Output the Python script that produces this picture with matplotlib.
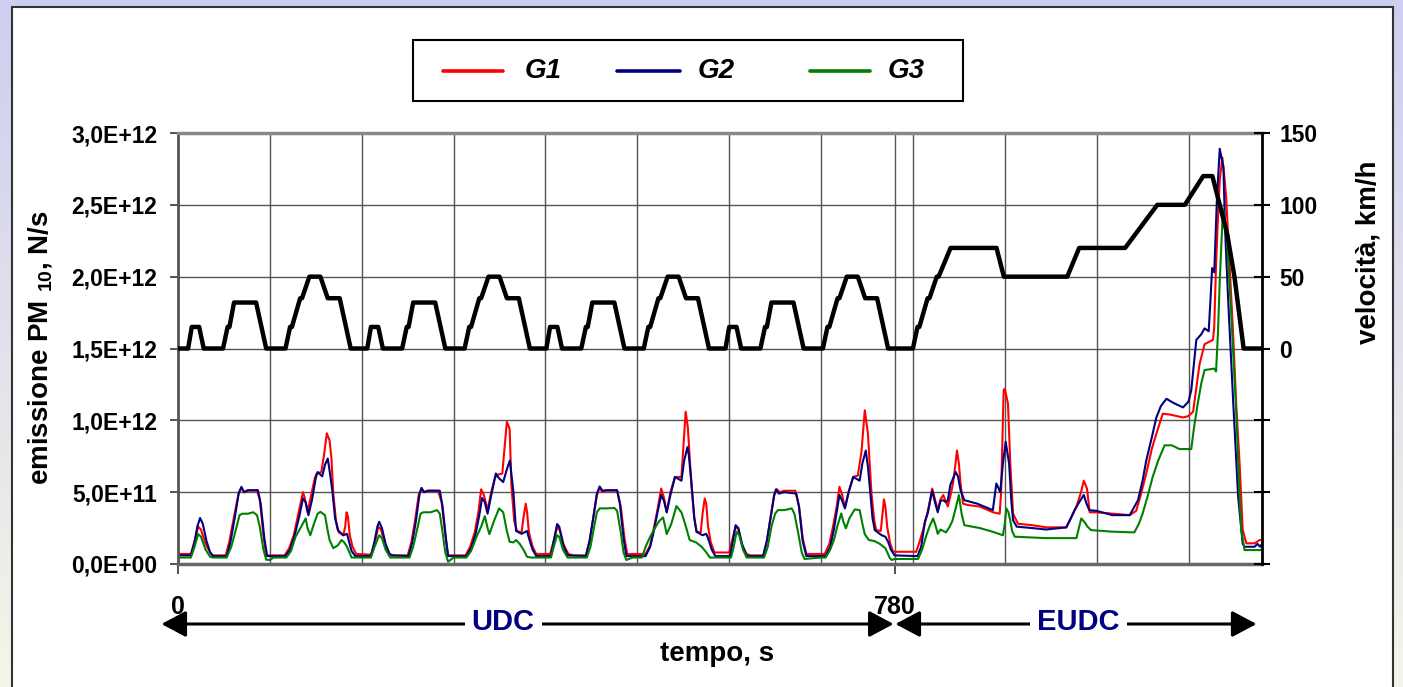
import numpy as np
import matplotlib
matplotlib.use('Agg')
import matplotlib.pyplot as plt
from matplotlib.patches import Rectangle
from matplotlib.lines import Line2D
from matplotlib.ticker import FuncFormatter, MultipleLocator
from matplotlib import transforms

plt.rcParams['font.family'] = ['Liberation Sans', 'DejaVu Sans']
plt.rcParams['font.weight'] = 'bold'
plt.rcParams['mathtext.fontset'] = 'custom'
plt.rcParams['mathtext.rm'] = 'Liberation Sans:bold'
plt.rcParams['mathtext.it'] = 'Liberation Sans:bold:italic'
plt.rcParams['mathtext.bf'] = 'Liberation Sans:bold'

# ciclo NEDC: ECE-15 (ripetuto 4 volte) + EUDC, velocità in km/h
ece_t = [0, 11, 15, 23, 28, 49, 54, 56, 61, 85, 96, 117, 122, 124, 133, 135, 143, 155, 163, 176, 188, 195]
ece_v = [0, 0, 15, 15, 0, 0, 15, 15, 32, 32, 0, 0, 15, 15, 35, 35, 50, 50, 35, 35, 0, 0]
eudc_t = [0, 20, 25, 27, 36, 38, 46, 48, 61, 111, 119, 188, 201, 251, 286, 316, 336, 346, 362, 370, 380, 400]
eudc_v = [0, 0, 15, 15, 35, 35, 50, 50, 70, 70, 50, 50, 70, 70, 100, 100, 120, 120, 80, 50, 0, 0]
ece_start = [0, 195, 390, 585]
eudc_start = 780

# emissioni PM10 (tempo s, valore in 1E+11 N/s)
g1 = np.array([
    (0, 0.7), (14, 0.7), (18, 1.6), (22, 2.6), (25, 2.4), (30, 1.4), (35, 0.8), (38, 0.6), (52, 0.6),
    (56, 1.6), (61, 3.3), (66, 4.9), (69, 5.3), (72, 5.0), (76, 5.1), (86, 5.1), (89, 4.5), (93, 2.0),
    (96, 0.6), (116, 0.6), (121, 1.1), (126, 2.0), (131, 3.5), (136, 5.0), (138, 4.6), (141, 3.6),
    (145, 4.8), (149, 6.0), (151, 6.3), (156, 6.4), (159, 7.6), (162, 9.1), (165, 8.6), (167, 7.4),
    (169, 4.9), (172, 3.0), (175, 2.2), (180, 2.0), (182, 2.6), (183.5, 3.6), (185, 3.3), (187, 2.0),
    (190, 1.2), (194, 0.7),
    (210, 0.65), (214, 1.4), (218, 2.6), (221, 2.4), (225, 1.4), (230, 0.7), (235, 0.6), (250, 0.6),
    (254, 1.5), (258, 3.0), (262, 4.8), (265, 5.2), (268, 5.0), (272, 5.1), (283, 5.1), (287, 4.3),
    (291, 2.0), (294, 0.6), (313, 0.6), (318, 1.2), (323, 2.2), (327, 3.6), (330, 5.2), (333, 4.8),
    (337, 3.75), (341, 5.0), (345, 6.0), (347, 6.2), (353, 6.3), (356, 8.5), (358, 9.9), (361, 9.4),
    (363, 5.4), (366, 3.0), (369, 2.3), (374, 2.2), (376, 3.2), (378.5, 4.2), (380, 3.6), (382, 2.2),
    (386, 1.2), (390, 0.7),
    (405, 0.7), (409, 1.6), (413, 2.6), (416, 2.3), (420, 1.3), (425, 0.7), (430, 0.6), (444, 0.6),
    (448, 1.6), (452, 3.2), (456, 4.8), (459, 5.3), (462, 5.0), (466, 5.1), (478, 5.1), (482, 4.0),
    (486, 1.8), (489, 0.7), (509, 0.7), (514, 1.3), (518, 2.5), (522, 3.8), (526, 5.25), (529, 4.6),
    (532, 3.6), (536, 5.0), (541, 6.06), (548, 6.06), (551, 9.0), (552.6, 10.6), (555, 9.5),
    (559, 5.4), (562, 3.2), (564.5, 2.24), (569, 2.2), (571, 3.5), (573.4, 4.56), (575, 4.2),
    (577, 2.6), (580, 1.5), (584, 0.8),
    (600, 0.8), (603, 1.6), (607, 2.6), (610, 2.4), (614, 1.3), (619, 0.7), (623, 0.6), (637, 0.6),
    (641, 1.6), (645, 3.2), (649, 4.8), (652, 5.2), (655, 5.0), (660, 5.1), (672, 5.1), (676, 4.0),
    (680, 1.8), (684, 0.7), (704, 0.7), (709, 1.4), (713, 2.6), (717, 4.0), (720, 5.37), (723, 4.8),
    (726, 3.9), (730, 5.0), (735, 6.06), (740, 6.15), (744, 7.8), (747.6, 10.7), (751, 9.1),
    (755, 4.8), (758, 3.0), (760, 2.36), (765, 2.3), (767, 3.6), (768.5, 4.5), (770, 4.0), (772, 2.6),
    (775, 1.5), (778.4, 0.85),
    (803.6, 0.85), (807, 1.5), (811, 2.36), (816.5, 3.75), (821, 5.25), (824, 4.5), (827, 3.75),
    (830, 4.5), (833, 4.8), (836, 4.3), (838, 4.0), (841, 4.8), (843.6, 5.6), (846, 6.8), (848, 7.9),
    (850, 7.0), (852, 5.5), (854.6, 4.2), (860, 4.1), (872.7, 4.0), (887.3, 3.6), (894.5, 3.5),
    (896, 5.0), (898.8, 12.1), (900, 12.2), (903.5, 11.15), (906, 7.0), (909, 3.5), (914.4, 2.8),
    (930, 2.7), (945.3, 2.55), (967, 2.55), (972, 3.2), (978, 4.0), (983, 5.0), (986, 5.8),
    (989.5, 5.25), (992.4, 3.6), (1000, 3.6), (1017.8, 3.5), (1036, 3.4), (1043, 3.7), (1048, 4.8),
    (1054, 6.3), (1060, 8.0), (1065, 9.07), (1072, 10.46), (1080, 10.4), (1094, 10.2), (1100, 10.3),
    (1105, 10.6), (1108, 12.0), (1112, 13.9), (1117.5, 15.3), (1126.6, 15.6), (1128, 16.5),
    (1130, 20.9), (1132, 24.0), (1134, 26.7), (1136.8, 28.3), (1139, 27.0), (1141, 25.5),
    (1145, 20.5), (1148.4, 16.2), (1152, 11.0), (1155.6, 7.0), (1159, 2.36), (1163, 1.44),
    (1172, 1.44), (1177, 1.65), (1180, 1.7)])

g2 = np.array([
    (0, 0.6), (14, 0.6), (18, 1.5), (21, 2.6), (24, 3.2), (27, 2.8), (31, 1.6), (35, 0.8), (38, 0.55),
    (53, 0.55), (57, 1.5), (62, 3.3), (66, 4.9), (69, 5.37), (72, 5.0), (76, 5.14), (87, 5.14),
    (90, 4.2), (94, 1.8), (97, 0.55), (117, 0.55), (122, 1.0), (127, 2.0), (132, 3.3), (136, 4.56),
    (139, 4.3), (142, 3.4), (146, 4.5), (150, 6.0), (152, 6.4), (157, 6.1), (160, 6.9), (163, 7.34),
    (165, 6.5), (168, 5.1), (171, 3.2), (174, 2.36), (180, 2.0), (184, 2.1), (186, 1.6), (189, 0.9),
    (193, 0.55),
    (210, 0.55), (214, 1.6), (217, 2.6), (219, 2.94), (222, 2.5), (226, 1.4), (231, 0.6), (251, 0.55),
    (255, 1.5), (259, 3.0), (263, 4.9), (265, 5.3), (268, 5.0), (272, 5.1), (285, 5.1), (288, 4.0),
    (292, 1.6), (294, 0.55), (314, 0.55), (319, 1.1), (324, 2.1), (328, 3.4), (331, 4.6), (334, 4.3),
    (337, 3.5), (341, 4.8), (346, 6.3), (349, 6.0), (354, 5.7), (358, 6.6), (361.3, 7.2), (363, 6.2),
    (365, 5.1), (368, 2.3), (374, 2.1), (380, 2.3), (382, 1.8), (386, 1.0), (390, 0.55),
    (406, 0.55), (409, 1.6), (412.7, 2.78), (415, 2.6), (419, 1.4), (424, 0.6), (444, 0.55),
    (448, 1.6), (452, 3.2), (456, 4.9), (459, 5.4), (462, 5.1), (466, 5.14), (478, 5.14), (481, 4.2),
    (485, 1.8), (488, 0.55), (509, 0.55), (514, 1.2), (518, 2.3), (522, 3.6), (526, 4.8), (529, 4.4),
    (532, 3.6), (536, 4.8), (541, 6.06), (548, 5.8), (551, 7.2), (554.6, 8.14), (556, 7.6),
    (559, 5.6), (562, 3.2), (564.5, 2.24), (571, 2.0), (575, 2.1), (577, 1.8), (581, 1.0),
    (585, 0.55),
    (601, 0.55), (604, 1.6), (607, 2.7), (610, 2.5), (614, 1.4), (619, 0.55), (637, 0.55),
    (641, 1.6), (645, 3.2), (649, 4.8), (651, 5.2), (654, 4.9), (660, 5.0), (673, 4.9), (676, 4.0),
    (680, 1.6), (684, 0.55), (705, 0.55), (710, 1.2), (714, 2.4), (717, 3.6), (720, 4.8), (723, 4.4),
    (726, 3.87), (730, 5.0), (735, 6.06), (742, 5.8), (745, 7.0), (748.7, 7.9), (751, 6.8),
    (753, 5.4), (756, 3.2), (758.5, 2.36), (766, 2.0), (770, 1.9), (773, 1.55), (776, 1.0),
    (780, 0.6),
    (805, 0.55), (809, 1.2), (813, 2.94), (816, 3.5), (821, 5.1), (824, 4.3), (827, 3.6), (830, 4.4),
    (833, 4.44), (836, 4.3), (838, 4.44), (840.7, 5.5), (846.6, 6.4), (849, 6.1), (852, 5.1),
    (856, 4.44), (870, 4.2), (887, 3.75), (890.8, 5.6), (893, 5.3), (895, 5.0), (898, 7.0),
    (901, 8.5), (904.7, 7.0), (907, 4.5), (909, 3.05), (913, 2.6), (930, 2.5), (945, 2.4),
    (967, 2.55), (972, 3.2), (976, 3.75), (981, 4.3), (986, 4.8), (989, 4.2), (992, 3.75),
    (1000, 3.7), (1017, 3.4), (1036, 3.4), (1045, 4.44), (1050, 5.8), (1054, 7.2), (1060, 8.8),
    (1065, 10.2), (1070, 11.0), (1076, 11.5), (1084, 11.2), (1094, 10.9), (1100, 11.3),
    (1103, 12.1), (1106, 14.0), (1108.5, 15.6), (1114, 16.0), (1117.5, 16.4), (1122, 16.2),
    (1124, 18.5), (1125.7, 20.6), (1128, 20.3), (1131, 25.5), (1134, 28.9), (1138, 27.6),
    (1140, 23.0), (1143, 18.6), (1148.4, 11.6), (1154, 4.7), (1159, 1.4), (1161, 1.2), (1172, 1.2),
    (1175, 1.4), (1178, 1.2), (1180, 1.4)])

g3 = np.array([
    (0, 0.45), (14, 0.45), (18, 1.2), (22, 2.08), (25, 1.9), (30, 1.0), (35, 0.5), (38, 0.45),
    (53, 0.45), (58, 1.2), (63, 2.4), (67, 3.4), (70, 3.5), (76, 3.5), (82, 3.6), (86, 3.4), (89, 2.6),
    (93, 1.0), (96, 0.3), (100, 0.28), (104, 0.45), (118, 0.45), (123, 0.9), (128, 1.9), (134, 2.6),
    (139, 3.17), (141, 2.5), (144, 2.0), (148, 2.8), (152, 3.5), (155, 3.63), (160, 3.4), (163, 2.3),
    (165, 1.67), (169, 1.1), (174, 1.3), (178, 1.67), (181, 1.5), (184, 1.2), (189, 0.45),
    (210, 0.45), (214, 1.2), (219, 2.0), (222, 1.8), (226, 1.0), (231, 0.45), (252, 0.45), (256, 1.2),
    (261, 2.6), (264, 3.5), (267, 3.6), (275, 3.6), (282, 3.75), (285, 3.5), (288, 2.2), (291, 0.8),
    (294, 0.16), (297, 0.3), (300, 0.45), (314, 0.45), (319, 0.9), (325, 1.9), (330, 2.6),
    (334, 3.33), (337, 2.5), (339, 2.08), (344, 3.0), (349.5, 3.87), (354, 3.6), (358, 2.3),
    (361, 1.55), (365, 1.5), (368, 1.67), (372, 1.4), (376, 1.0), (380, 0.5), (384, 0.45),
    (406, 0.45), (409, 1.2), (412.7, 2.0), (415, 1.9), (419, 1.0), (424, 0.45), (445, 0.45),
    (449, 1.2), (453, 2.6), (456, 3.6), (459, 3.87), (466, 3.87), (475, 3.9), (478, 3.7), (482, 2.2),
    (485, 0.8), (488, 0.28), (491, 0.35), (495, 0.45), (505, 0.45), (509, 1.2), (514, 1.9),
    (520, 2.6), (524, 3.0), (528, 3.24), (530, 2.7), (532, 2.08), (537, 2.8), (542.6, 4.03),
    (548, 3.6), (552, 2.8), (557, 1.67), (564, 1.5), (570, 1.2), (574, 0.9), (579, 0.45),
    (602, 0.45), (605, 1.2), (608, 2.24), (611, 2.0), (615, 1.0), (619, 0.45), (638, 0.45),
    (642, 1.2), (646, 2.6), (650, 3.5), (653, 3.75), (660, 3.75), (668, 3.87), (671, 3.5),
    (675, 2.2), (679, 0.8), (682, 0.35), (700, 0.45), (705, 0.45), (710, 1.0), (714, 1.67),
    (718, 2.7), (722, 3.52), (724, 3.0), (727, 2.48), (731, 3.2), (736.7, 3.8), (742, 3.75),
    (745, 2.8), (747.6, 2.08), (752, 1.67), (758, 1.6), (764, 1.4), (770, 1.1), (775, 0.4),
    (777, 0.28), (780, 0.35),
    (805.6, 0.35), (810, 1.0), (814.7, 2.0), (818, 2.6), (822, 3.17), (825, 2.6), (827, 2.1),
    (830, 2.4), (833, 2.3), (836, 2.2), (840, 2.6), (843, 3.0), (847, 4.0), (850, 4.8), (853, 3.5),
    (856, 2.7), (873, 2.5), (887, 2.24), (898, 2.0), (900, 2.8), (901.7, 3.87), (904, 3.6),
    (906, 3.0), (908, 2.3), (910.8, 1.9), (945, 1.8), (978, 1.8), (981, 2.6), (983.3, 3.17),
    (987, 2.9), (990, 2.6), (994, 2.36), (1017, 2.25), (1041, 2.2), (1046, 2.8), (1050, 3.5),
    (1055, 4.6), (1061, 6.06), (1067, 7.2), (1074, 8.26), (1082, 8.26), (1090, 8.0), (1103, 8.0),
    (1106, 9.5), (1110, 11.15), (1114, 12.6), (1117.5, 13.5), (1128, 13.6), (1130, 13.4),
    (1132, 16.0), (1134, 19.7), (1137.5, 24.7), (1141, 23.4), (1146.5, 17.4), (1152, 10.5),
    (1155, 5.5), (1157.4, 2.36), (1161, 0.97), (1180, 0.97)])

series_names = ['G1', 'G2', 'G3']
series_colors = ['#ff0000', '#000080', '#008000']

# tempo / velocità del ciclo completo
speed_t = np.concatenate([np.array(ece_t) + s for s in ece_start] + [np.array(eudc_t) + eudc_start])
speed_v = np.concatenate([ece_v] * len(ece_start) + [eudc_v])

W, H = 1403, 687


def fx(px):
    return px / W


def fy(py):
    return 1 - py / H


fig = plt.figure(figsize=(W / 100, H / 100), dpi=100)

# sfondo sfumato + pannello bianco
bg = fig.add_axes([0, 0, 1, 1], zorder=-10)
top_c = np.array([206, 206, 240]) / 255
bot_c = np.array([245, 245, 232]) / 255
grad = np.linspace(0, 1, 256)[:, None, None] * (bot_c - top_c) + top_c
bg.imshow(grad, aspect='auto', extent=[0, 1, 0, 1])
bg.axis('off')
fig.patches.append(Rectangle((fx(12), -0.01), fx(1393 - 12), 1 - 7 / H + 0.01,
                             transform=fig.transFigure, facecolor='white',
                             edgecolor='#333333', lw=1.5, zorder=-5))

ax = fig.add_axes([fx(178), fy(564), fx(1084), 431 / H])
handles = []
for data, name, col in zip([g1, g2, g3], series_names, series_colors):
    h, = ax.plot(data[:, 0], data[:, 1] * 1e11, color=col, lw=1.5, label=name)
    handles.append(h)

ax.set_xlim(0, 1180)
ax.set_ylim(0, 3e12)
ax.yaxis.set_major_locator(MultipleLocator(5e11))


def sci_fmt(v, pos):
    if v == 0:
        return '0,0E+00'
    exp = int(np.floor(np.log10(abs(v)) + 1e-9))
    return f'{v / 10 ** exp:.1f}'.replace('.', ',') + f'E+{exp:02d}'


ax.yaxis.set_major_formatter(FuncFormatter(sci_fmt))
ax.set_xticks([0, 780])
ax.set_xticklabels(['', ''])
ax.set_xticks(np.arange(0, 1200, 100), minor=True)
ax.tick_params(axis='x', which='major', length=7, width=1.2, direction='out', color='#333333')
ax.tick_params(axis='x', which='minor', length=0)
ax.tick_params(axis='y', length=6, width=1.2, direction='out', pad=9, labelsize=16.5, color='#333333')
ax.grid(axis='x', which='both', color='#555555', lw=1)
ax.grid(axis='y', which='major', color='#555555', lw=1)
ax.set_axisbelow(True)
ax.spines['top'].set_color('#888888')
ax.spines['top'].set_linewidth(2.5)
ax.spines['bottom'].set_color('#666666')
ax.spines['bottom'].set_linewidth(2.5)
ax.spines['left'].set_color('#555555')
ax.spines['left'].set_linewidth(2)
ax.spines['right'].set_visible(False)

# asse secondario: velocità
ax2 = ax.twinx()
ax2.plot(speed_t, speed_v, color='black', lw=3.2)
ax2.set_ylim(-150, 150)
ax2.yaxis.set_major_locator(MultipleLocator(50))
ax2.yaxis.set_major_formatter(FuncFormatter(lambda v, p: f'{v:.0f}' if v >= 0 else ''))
ax2.tick_params(axis='y', length=11, width=1.5, direction='inout', pad=7, labelsize=16.5)
for s in ['left', 'top', 'bottom']:
    ax2.spines[s].set_visible(False)
ax2.spines['right'].set_color('black')
ax2.spines['right'].set_linewidth(2)

# etichette assi
fig.text(fx(40), fy(348), r'emissione PM $_{10}$, N/s', rotation=90,
         ha='center', va='center', fontsize=20, fontweight='bold')
fig.text(fx(1368), fy(252), 'velocità, km/h', rotation=90,
         ha='center', va='center', fontsize=20, fontweight='bold')

# legenda (riquadro con le tre serie)
fig.patches.append(Rectangle((fx(413), fy(101)), fx(963 - 413), (101 - 40) / H,
                             transform=fig.transFigure, facecolor='white',
                             edgecolor='black', lw=1.5, zorder=5))
leg_line_x = [(443, 503), (617, 680), (810, 870)]
leg_text_x = [525, 698, 888]
for h, (x0, x1), xt in zip(handles, leg_line_x, leg_text_x):
    fig.add_artist(Line2D([fx(x0), fx(x1)], [fy(70.5), fy(70.5)], transform=fig.transFigure,
                          color=h.get_color(), lw=2.6, solid_capstyle='round', zorder=6))
    fig.text(fx(xt), fy(71), h.get_label(), ha='left', va='center', fontsize=20,
             fontweight='bold', fontstyle='italic', zorder=6)

# frecce UDC / EUDC sotto l'asse dei tempi
trans = transforms.blended_transform_factory(ax.transData, fig.transFigure)
y_arr = fy(624)
arrow_style = dict(arrowstyle='<|-|>,head_length=0.75,head_width=0.4', mutation_scale=20,
                   color='black', lw=2.2, shrinkA=0, shrinkB=0)
ax.annotate('', xy=(-18, y_arr), xytext=(779, y_arr), xycoords=trans, textcoords=trans,
            arrowprops=arrow_style, annotation_clip=False)
ax.annotate('', xy=(781, y_arr), xytext=(1174, y_arr), xycoords=trans, textcoords=trans,
            arrowprops=arrow_style, annotation_clip=False)
box = dict(facecolor='white', edgecolor='none', pad=5)
ax.text(354, fy(630), 'UDC', transform=trans, ha='center', va='baseline',
        fontsize=21, fontweight='bold', color='#000080', bbox=box)
ax.text(980, fy(630), 'EUDC', transform=trans, ha='center', va='baseline',
        fontsize=21, fontweight='bold', color='#000080', bbox=box)
ax.text(0, fy(614), '0', transform=trans, ha='center', va='baseline',
        fontsize=18, fontweight='bold')
ax.text(780, fy(614), '780', transform=trans, ha='center', va='baseline',
        fontsize=18, fontweight='bold')
fig.text(fx(717), fy(661), 'tempo, s', ha='center', va='baseline',
         fontsize=20, fontweight='bold')

fig.savefig('out.png', dpi=100)
